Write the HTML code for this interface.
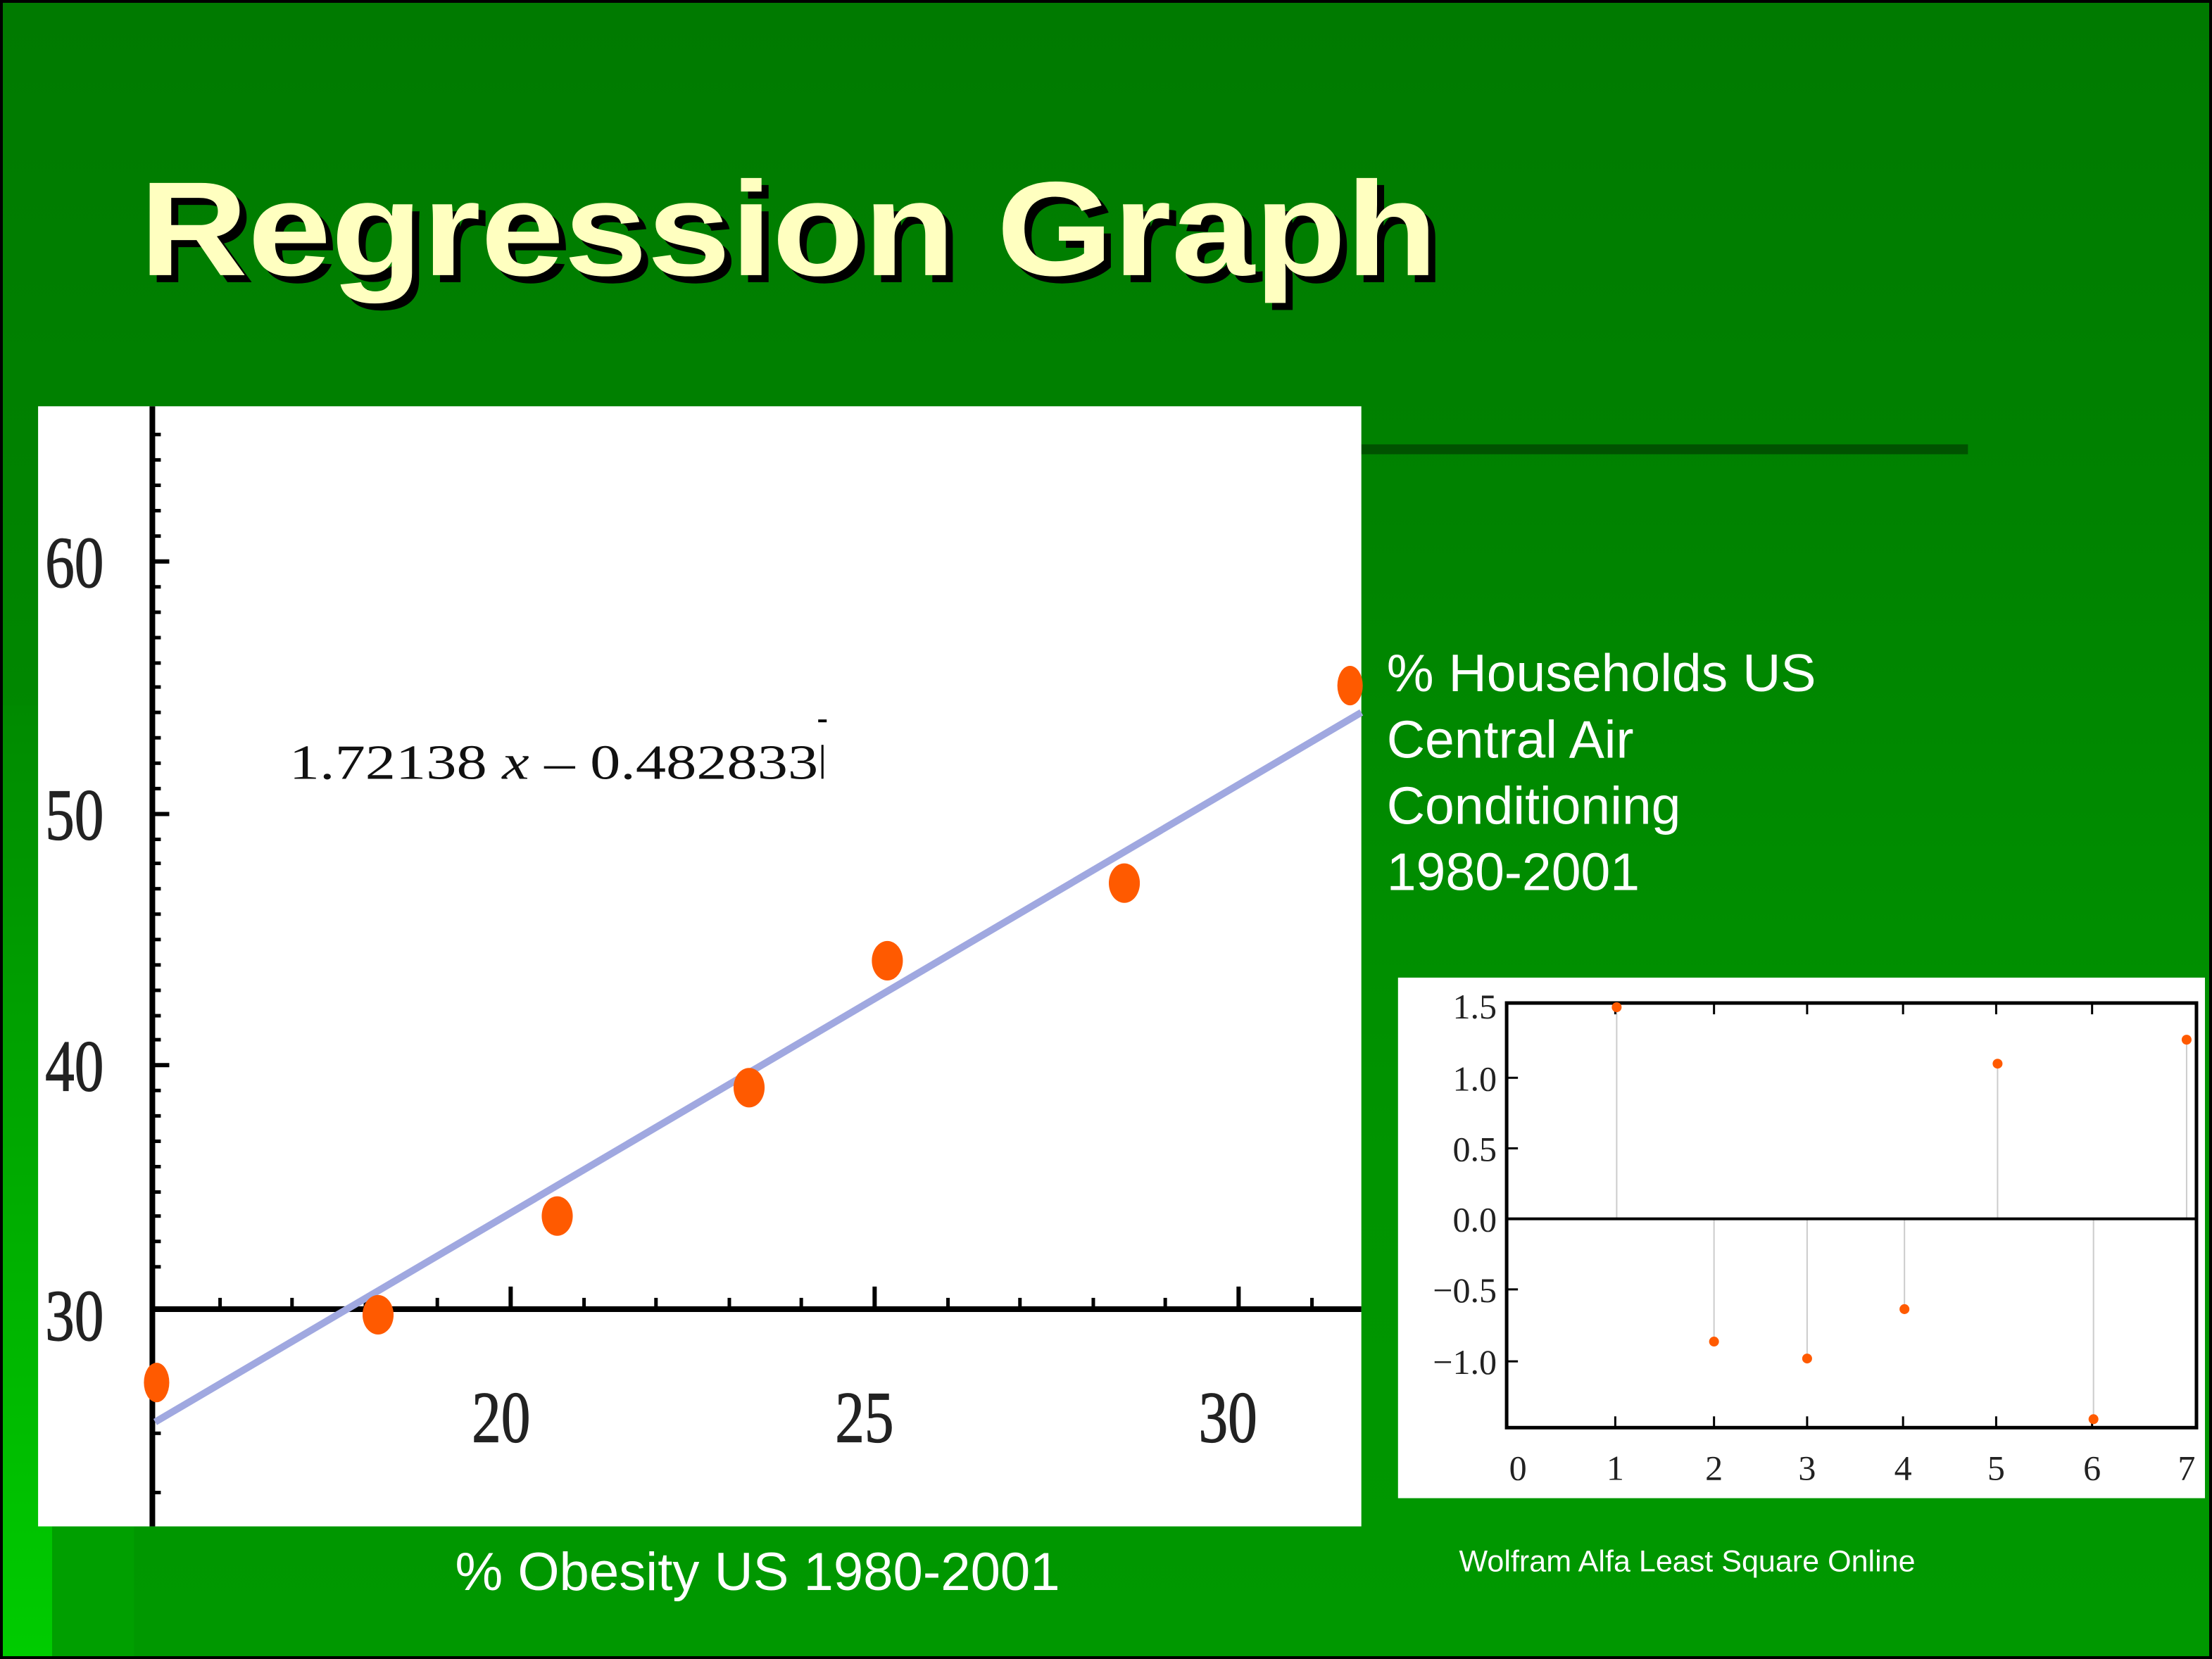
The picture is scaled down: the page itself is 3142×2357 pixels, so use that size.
<!DOCTYPE html>
<html><head><meta charset="utf-8"><style>
html,body{margin:0;padding:0;background:#000}
svg{display:block}
</style></head><body>
<svg width="3142" height="2357" viewBox="0 0 1568 1176" preserveAspectRatio="none" xmlns="http://www.w3.org/2000/svg">
<defs>
<linearGradient id="bg" x1="0" y1="0" x2="0" y2="1">
<stop offset="0" stop-color="#007a00"/>
<stop offset="0.3" stop-color="#008200"/>
<stop offset="0.7" stop-color="#009400"/>
<stop offset="1" stop-color="#009800"/>
</linearGradient>
<linearGradient id="lg" x1="0" y1="0" x2="0" y2="1">
<stop offset="0" stop-color="#008a00"/>
<stop offset="1" stop-color="#00cc00"/>
</linearGradient>
</defs>
<rect x="0" y="0" width="1568" height="1176" fill="#000"/>
<rect x="2" y="2" width="1564" height="1172" fill="url(#bg)"/>
<rect x="2" y="500" width="35" height="674" fill="url(#lg)"/>
<rect x="37" y="1080" width="58" height="94" fill="#009f00"/>
<g font-family="Liberation Sans, Arial, sans-serif" font-weight="bold" font-size="95">
<text x="104" y="200" fill="#000" textLength="920" lengthAdjust="spacingAndGlyphs">Regression Graph</text>
<text x="99" y="195" fill="#ffffc0" textLength="920" lengthAdjust="spacingAndGlyphs">Regression Graph</text>
</g>
<rect x="965" y="315" width="430" height="7" fill="#005200"/>
<rect x="27" y="288" width="938" height="794" fill="#fff"/>
<g stroke="#000" stroke-width="4">
<line x1="108" y1="288" x2="108" y2="1082"/>
<line x1="108" y1="928" x2="965" y2="928"/>
</g>
<g stroke="#000" stroke-width="3">
<line x1="108" y1="398" x2="120" y2="398"/><line x1="108" y1="577" x2="120" y2="577"/>
<line x1="108" y1="755" x2="120" y2="755"/>
<line x1="362" y1="928" x2="362" y2="912"/><line x1="620" y1="928" x2="620" y2="912"/><line x1="878" y1="928" x2="878" y2="912"/>
</g>
<g stroke="#000" stroke-width="2.5">
<line x1="108" y1="308" x2="114" y2="308"/><line x1="108" y1="344" x2="114" y2="344"/><line x1="108" y1="362" x2="114" y2="362"/><line x1="108" y1="326" x2="114" y2="326"/><line x1="108" y1="380" x2="114" y2="380"/>
<line x1="108" y1="416" x2="114" y2="416"/><line x1="108" y1="434" x2="114" y2="434"/><line x1="108" y1="452" x2="114" y2="452"/><line x1="108" y1="470" x2="114" y2="470"/><line x1="108" y1="487" x2="114" y2="487"/><line x1="108" y1="505" x2="114" y2="505"/><line x1="108" y1="523" x2="114" y2="523"/><line x1="108" y1="541" x2="114" y2="541"/><line x1="108" y1="559" x2="114" y2="559"/>
<line x1="108" y1="595" x2="114" y2="595"/><line x1="108" y1="612" x2="114" y2="612"/><line x1="108" y1="630" x2="114" y2="630"/><line x1="108" y1="648" x2="114" y2="648"/><line x1="108" y1="666" x2="114" y2="666"/><line x1="108" y1="684" x2="114" y2="684"/><line x1="108" y1="702" x2="114" y2="702"/><line x1="108" y1="720" x2="114" y2="720"/><line x1="108" y1="737" x2="114" y2="737"/>
<line x1="108" y1="773" x2="114" y2="773"/><line x1="108" y1="791" x2="114" y2="791"/><line x1="108" y1="809" x2="114" y2="809"/><line x1="108" y1="827" x2="114" y2="827"/><line x1="108" y1="845" x2="114" y2="845"/><line x1="108" y1="862" x2="114" y2="862"/><line x1="108" y1="880" x2="114" y2="880"/><line x1="108" y1="898" x2="114" y2="898"/>
<line x1="108" y1="1016" x2="114" y2="1016"/><line x1="108" y1="1058" x2="114" y2="1058"/>
<line x1="156" y1="928" x2="156" y2="920"/><line x1="207" y1="928" x2="207" y2="920"/><line x1="259" y1="928" x2="259" y2="920"/><line x1="310" y1="928" x2="310" y2="920"/>
<line x1="414" y1="928" x2="414" y2="920"/><line x1="465" y1="928" x2="465" y2="920"/><line x1="517" y1="928" x2="517" y2="920"/><line x1="568" y1="928" x2="568" y2="920"/>
<line x1="672" y1="928" x2="672" y2="920"/><line x1="723" y1="928" x2="723" y2="920"/><line x1="775" y1="928" x2="775" y2="920"/><line x1="826" y1="928" x2="826" y2="920"/>
<line x1="930" y1="928" x2="930" y2="920"/>
</g>
<g font-family="Liberation Serif, serif" font-size="52" fill="#222" stroke="#222" stroke-width="0.6" transform="scale(0.8,1)">
<text x="40" y="416">60</text><text x="40" y="595">50</text><text x="40" y="773">40</text><text x="40" y="950">30</text>
<text x="418" y="1022">20</text><text x="740" y="1022">25</text><text x="1062" y="1022">30</text>
</g>
<line x1="110" y1="1008" x2="965" y2="505" stroke="#a0a8e0" stroke-width="5"/>
<g fill="#ff5a00">
<ellipse cx="111" cy="980" rx="9" ry="14"/>
<ellipse cx="268" cy="932" rx="11" ry="14"/>
<ellipse cx="395" cy="862" rx="11" ry="14"/>
<ellipse cx="531" cy="771" rx="11" ry="14"/>
<ellipse cx="629" cy="681" rx="11" ry="14"/>
<ellipse cx="797" cy="626" rx="11" ry="14"/>
<ellipse cx="957" cy="486" rx="9" ry="14"/>
</g>
<text x="205" y="552" font-family="Liberation Serif, serif" font-size="35" fill="#111" textLength="375" lengthAdjust="spacingAndGlyphs">1.72138 <tspan font-style="italic">x</tspan> – 0.482833</text>
<line x1="583" y1="528" x2="583" y2="552" stroke="#000" stroke-width="1.5"/>
<line x1="580" y1="511" x2="586" y2="511" stroke="#000" stroke-width="2"/>
<g font-family="Liberation Sans, Arial, sans-serif" font-size="37.5" fill="#fff">
<text x="983" y="490">% Households US</text>
<text x="983" y="537">Central Air</text>
<text x="983" y="584">Conditioning</text>
<text x="983" y="631">1980-2001</text>
</g>
<text x="537" y="1127" font-family="Liberation Sans, Arial, sans-serif" font-size="38" fill="#fff" text-anchor="middle">% Obesity US 1980-2001</text>
<text x="1196" y="1114" font-family="Liberation Sans, Arial, sans-serif" font-size="21.5" fill="#fff" text-anchor="middle">Wolfram Alfa Least Square Online</text>
<rect x="991" y="693" width="572" height="369" fill="#fff"/>
<g stroke="#ccc" stroke-width="1">
<line x1="1146" y1="864" x2="1146" y2="714"/><line x1="1215" y1="864" x2="1215" y2="951"/><line x1="1281" y1="864" x2="1281" y2="963"/><line x1="1350" y1="864" x2="1350" y2="928"/><line x1="1416" y1="864" x2="1416" y2="754"/><line x1="1484" y1="864" x2="1484" y2="1006"/><line x1="1550" y1="864" x2="1550" y2="737"/>
</g>
<rect x="1068" y="711" width="489" height="301" fill="none" stroke="#000" stroke-width="2.5"/>
<line x1="1068" y1="864" x2="1557" y2="864" stroke="#000" stroke-width="2"/>
<g stroke="#000" stroke-width="1.5">
<line x1="1068" y1="764" x2="1076" y2="764"/><line x1="1068" y1="814" x2="1076" y2="814"/><line x1="1068" y1="914" x2="1076" y2="914"/><line x1="1068" y1="965" x2="1076" y2="965"/>
<line x1="1145" y1="1012" x2="1145" y2="1004"/><line x1="1215" y1="1012" x2="1215" y2="1004"/><line x1="1281" y1="1012" x2="1281" y2="1004"/><line x1="1349" y1="1012" x2="1349" y2="1004"/><line x1="1415" y1="1012" x2="1415" y2="1004"/><line x1="1483" y1="1012" x2="1483" y2="1004"/>
<line x1="1145" y1="711" x2="1145" y2="719"/><line x1="1215" y1="711" x2="1215" y2="719"/><line x1="1281" y1="711" x2="1281" y2="719"/><line x1="1349" y1="711" x2="1349" y2="719"/><line x1="1415" y1="711" x2="1415" y2="719"/><line x1="1483" y1="711" x2="1483" y2="719"/>
</g>
<g font-family="Liberation Serif, serif" font-size="25" fill="#222" text-anchor="end">
<text x="1061" y="722">1.5</text><text x="1061" y="773">1.0</text><text x="1061" y="823">0.5</text><text x="1061" y="873">0.0</text><text x="1061" y="923">−0.5</text><text x="1061" y="974">−1.0</text>
</g>
<g font-family="Liberation Serif, serif" font-size="25" fill="#222" text-anchor="middle">
<text x="1076" y="1049">0</text><text x="1145" y="1049">1</text><text x="1215" y="1049">2</text><text x="1281" y="1049">3</text><text x="1349" y="1049">4</text><text x="1415" y="1049">5</text><text x="1483" y="1049">6</text><text x="1550" y="1049">7</text>
</g>
<g fill="#ff5a00">
<circle cx="1146" cy="714" r="3.5"/><circle cx="1215" cy="951" r="3.5"/><circle cx="1281" cy="963" r="3.5"/><circle cx="1350" cy="928" r="3.5"/><circle cx="1416" cy="754" r="3.5"/><circle cx="1484" cy="1006" r="3.5"/><circle cx="1550" cy="737" r="3.5"/>
</g>
</svg>
</body></html>
